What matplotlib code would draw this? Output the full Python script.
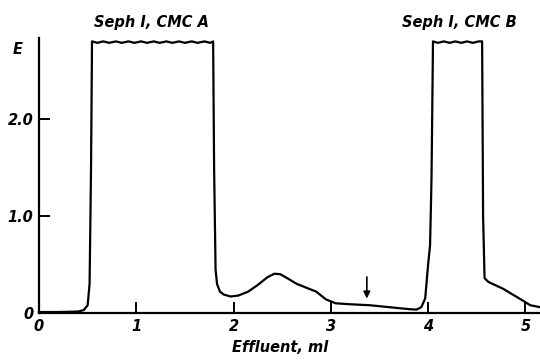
"""
Elution profile - Seph I, CMC A / CMC B
"""
import matplotlib
matplotlib.use('Agg')
import matplotlib.pyplot as plt

# ── Data ──
effluent = [0.0, 0.2, 0.4, 0.46, 0.50, 0.52, 0.535, 0.545,
            0.60, 0.66, 0.72, 0.79, 0.85, 0.92, 0.98, 1.05, 1.11, 1.18,
            1.24, 1.31, 1.37, 1.44, 1.50, 1.57, 1.63, 1.70, 1.76,
            1.79, 1.80, 1.815, 1.83, 1.86, 1.90, 1.97, 2.05, 2.15, 2.25,
            2.35, 2.42, 2.48, 2.55, 2.65, 2.75, 2.85, 2.95, 3.05, 3.20,
            3.40, 3.60, 3.80, 3.88, 3.93, 3.97, 4.00, 4.02, 4.035, 4.05,
            4.10, 4.16, 4.22, 4.28, 4.34, 4.40, 4.46, 4.52,
            4.555, 4.565, 4.58, 4.62, 4.77, 4.97, 5.05, 5.15]
absorbance = [0.01, 0.01, 0.015, 0.03, 0.08, 0.3, 1.5, 2.80,
              2.785, 2.80, 2.785, 2.80, 2.785, 2.80, 2.785, 2.80, 2.785, 2.80,
              2.785, 2.80, 2.785, 2.80, 2.785, 2.80, 2.785, 2.80, 2.785,
              2.80, 1.5, 0.45, 0.30, 0.22, 0.19, 0.17, 0.18, 0.22, 0.29,
              0.37, 0.405, 0.40, 0.36, 0.30, 0.26, 0.22, 0.14, 0.10, 0.09,
              0.08, 0.06, 0.04, 0.035, 0.06, 0.15, 0.50, 0.70, 1.4, 2.80,
              2.785, 2.80, 2.785, 2.80, 2.785, 2.80, 2.785, 2.80,
              2.80, 1.0, 0.36, 0.32, 0.25, 0.13, 0.08, 0.06]

x_ticks = [0, 1, 2, 3, 4, 5]
y_ticks = [0, 1.0, 2.0]
y_ticklabels = ['0', '1.0', '2.0']
arrow_x = 3.37

# ── Figure ──
fig = plt.figure(figsize=(5.4, 3.6), dpi=100)
ax = fig.add_axes([39 / 540, 47 / 360, 501 / 540, 275 / 360])

font = dict(fontweight='bold', fontstyle='italic', fontsize=10.5)

ax.plot(effluent, absorbance, color='black', linewidth=1.6,
        solid_joinstyle='round', clip_on=False)

ax.set_xlim(0, 5.15)
ax.set_ylim(0, 2.835)

ax.set_xticks(x_ticks)
ax.set_xticklabels([str(v) for v in x_ticks], **font)
ax.set_yticks(y_ticks)
ax.set_yticklabels(y_ticklabels, **font)
ax.tick_params(direction='in', length=8, width=1.4, pad=4)

ax.spines[['top', 'right']].set_visible(False)
ax.spines[['left', 'bottom']].set_linewidth(1.6)

# arrow marker
ax.annotate('', xy=(arrow_x, 0.12), xytext=(arrow_x, 0.40),
            arrowprops=dict(arrowstyle='-|>', color='black', lw=1.2,
                            mutation_scale=10))

# labels
fig.text(18 / 540, 1 - 49 / 360, 'E', ha='center', va='center', **font)
fig.text(280 / 540, 1 - 347 / 360, 'Effluent, ml', ha='center', va='center', **font)
fig.text(152 / 540, 1 - 23 / 360, 'Seph I, CMC A', ha='center', va='center', **font)
fig.text(459 / 540, 1 - 23 / 360, 'Seph I, CMC B', ha='center', va='center', **font)

fig.savefig('out.png', dpi=100)
